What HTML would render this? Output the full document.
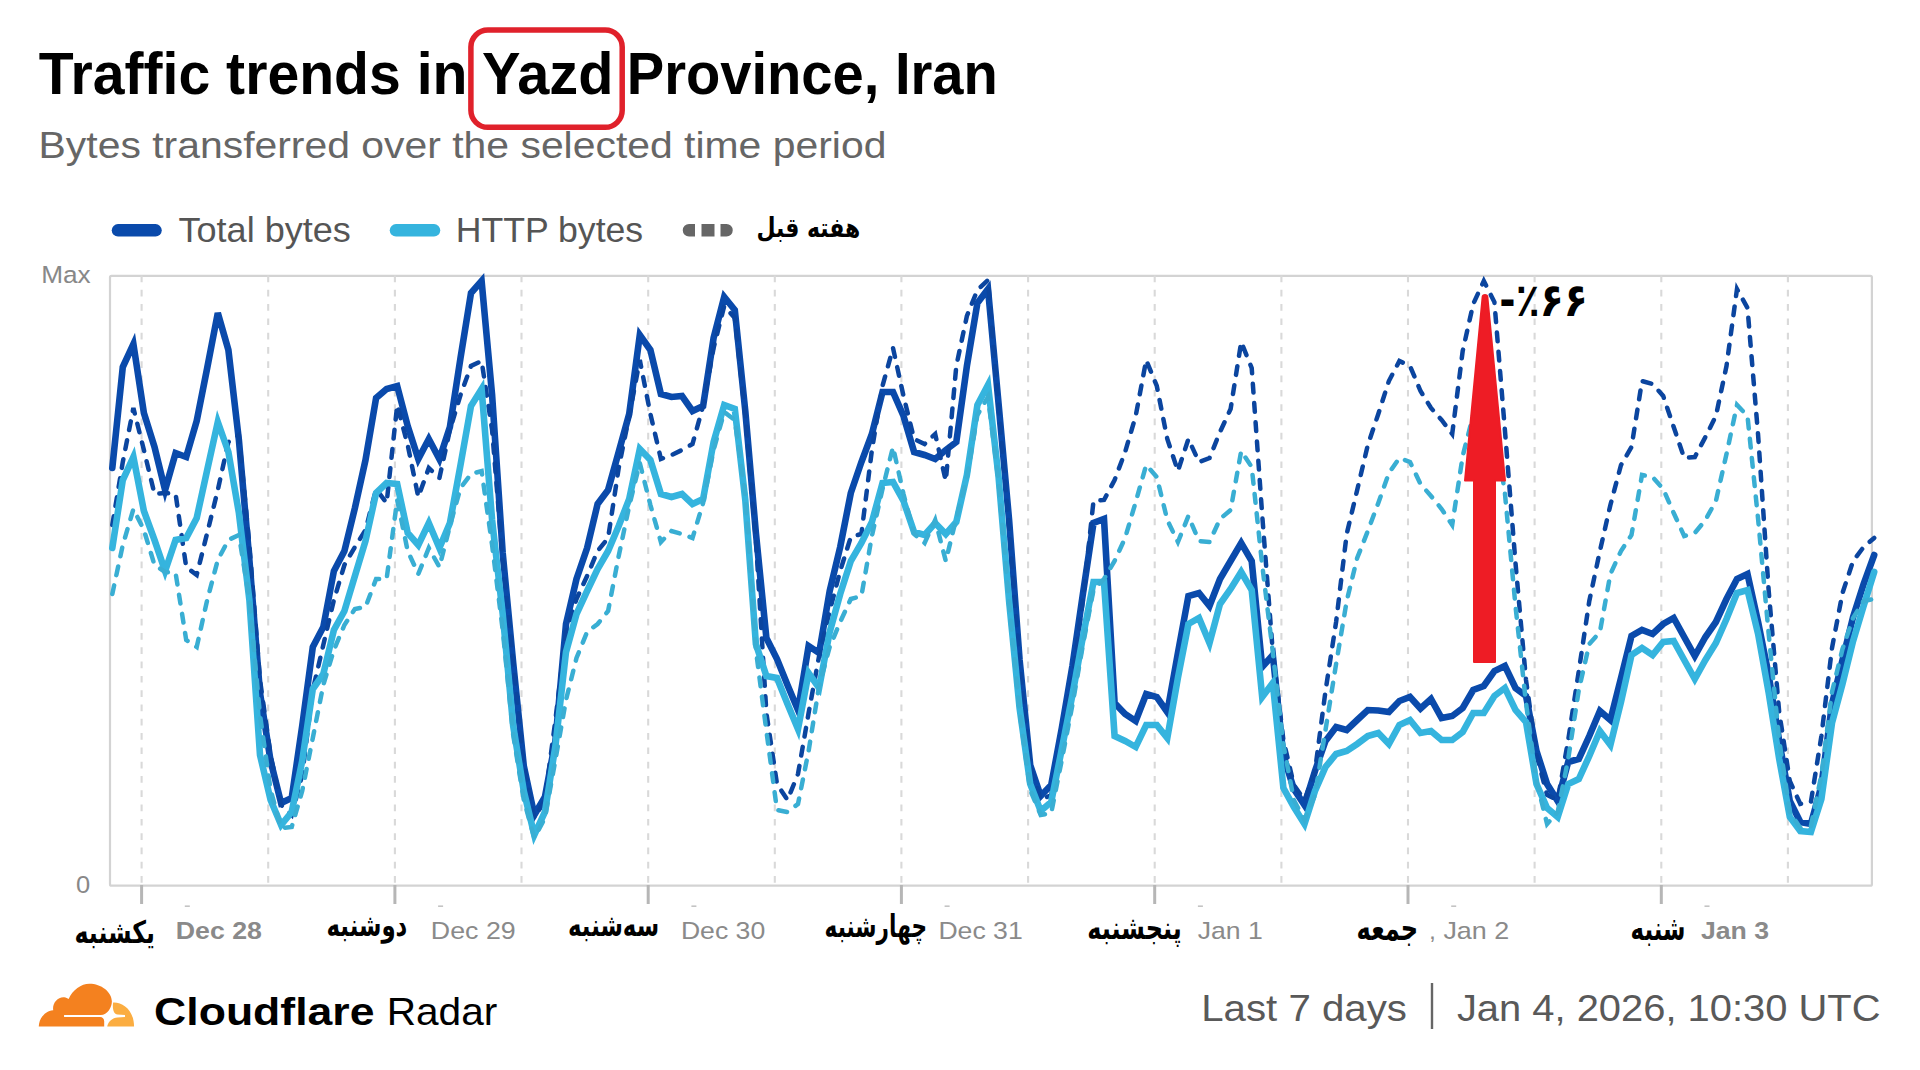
<!DOCTYPE html>
<html lang="en"><head><meta charset="utf-8"><title>Traffic trends in Yazd Province, Iran</title>
<style>html,body{margin:0;padding:0;background:#fff}svg{display:block}.s{font-family:"Liberation Sans",sans-serif}.f{font-family:"DejaVu Sans",sans-serif}</style></head>
<body>
<svg width="1920" height="1070" viewBox="0 0 1920 1070">
<rect width="1920" height="1070" fill="#fff"/>
<rect x="110" y="275.9" width="1761.9" height="609.8" rx="1.5" fill="none" stroke="#d3d3d3" stroke-width="2.2"/>
<line x1="141.6" y1="275.5" x2="141.6" y2="885" stroke="#d9d9d9" stroke-width="2.1" stroke-dasharray="6.7 7.6"/>
<line x1="268.2" y1="275.5" x2="268.2" y2="885" stroke="#d9d9d9" stroke-width="2.1" stroke-dasharray="6.7 7.6"/>
<line x1="394.9" y1="275.5" x2="394.9" y2="885" stroke="#d9d9d9" stroke-width="2.1" stroke-dasharray="6.7 7.6"/>
<line x1="521.5" y1="275.5" x2="521.5" y2="885" stroke="#d9d9d9" stroke-width="2.1" stroke-dasharray="6.7 7.6"/>
<line x1="648.2" y1="275.5" x2="648.2" y2="885" stroke="#d9d9d9" stroke-width="2.1" stroke-dasharray="6.7 7.6"/>
<line x1="774.8" y1="275.5" x2="774.8" y2="885" stroke="#d9d9d9" stroke-width="2.1" stroke-dasharray="6.7 7.6"/>
<line x1="901.4" y1="275.5" x2="901.4" y2="885" stroke="#d9d9d9" stroke-width="2.1" stroke-dasharray="6.7 7.6"/>
<line x1="1028.1" y1="275.5" x2="1028.1" y2="885" stroke="#d9d9d9" stroke-width="2.1" stroke-dasharray="6.7 7.6"/>
<line x1="1154.7" y1="275.5" x2="1154.7" y2="885" stroke="#d9d9d9" stroke-width="2.1" stroke-dasharray="6.7 7.6"/>
<line x1="1281.4" y1="275.5" x2="1281.4" y2="885" stroke="#d9d9d9" stroke-width="2.1" stroke-dasharray="6.7 7.6"/>
<line x1="1408.0" y1="275.5" x2="1408.0" y2="885" stroke="#d9d9d9" stroke-width="2.1" stroke-dasharray="6.7 7.6"/>
<line x1="1534.6" y1="275.5" x2="1534.6" y2="885" stroke="#d9d9d9" stroke-width="2.1" stroke-dasharray="6.7 7.6"/>
<line x1="1661.3" y1="275.5" x2="1661.3" y2="885" stroke="#d9d9d9" stroke-width="2.1" stroke-dasharray="6.7 7.6"/>
<line x1="1787.9" y1="275.5" x2="1787.9" y2="885" stroke="#d9d9d9" stroke-width="2.1" stroke-dasharray="6.7 7.6"/>
<line x1="141.6" y1="885" x2="141.6" y2="904" stroke="#b6b6b6" stroke-width="3"/>
<line x1="394.9" y1="885" x2="394.9" y2="904" stroke="#b6b6b6" stroke-width="3"/>
<line x1="648.2" y1="885" x2="648.2" y2="904" stroke="#b6b6b6" stroke-width="3"/>
<line x1="901.4" y1="885" x2="901.4" y2="904" stroke="#b6b6b6" stroke-width="3"/>
<line x1="1154.7" y1="885" x2="1154.7" y2="904" stroke="#b6b6b6" stroke-width="3"/>
<line x1="1408.0" y1="885" x2="1408.0" y2="904" stroke="#b6b6b6" stroke-width="3"/>
<line x1="1661.3" y1="885" x2="1661.3" y2="904" stroke="#b6b6b6" stroke-width="3"/>
<rect x="184.8" y="905.4" width="5" height="1.6" fill="#c4c4c4"/>
<rect x="438.1" y="905.4" width="5" height="1.6" fill="#c4c4c4"/>
<rect x="691.4" y="905.4" width="5" height="1.6" fill="#c4c4c4"/>
<rect x="944.6" y="905.4" width="5" height="1.6" fill="#c4c4c4"/>
<rect x="1197.9" y="905.4" width="5" height="1.6" fill="#c4c4c4"/>
<rect x="1451.2" y="905.4" width="5" height="1.6" fill="#c4c4c4"/>
<rect x="1704.5" y="905.4" width="5" height="1.6" fill="#c4c4c4"/>
<polyline points="112.3,468.0 122.8,367.0 133.4,344.0 143.9,413.0 154.5,447.0 165.1,490.0 175.6,453.0 186.2,457.0 196.7,421.0 207.2,368.0 217.8,313.0 228.4,350.0 238.9,440.0 249.4,560.0 260.0,693.0 270.6,761.0 281.1,803.0 291.7,798.0 302.2,726.0 312.8,647.0 323.3,627.0 333.9,571.0 344.4,551.0 354.9,508.0 365.5,460.0 376.1,398.0 386.6,389.0 397.2,386.0 407.7,426.0 418.3,459.0 428.8,439.0 439.4,459.0 449.9,427.0 460.5,358.0 471.0,293.0 481.6,281.0 492.1,395.0 502.7,553.0 513.2,663.0 523.8,766.0 534.3,815.0 544.9,797.0 555.4,741.0 566.0,624.0 576.5,579.0 587.1,548.0 597.6,504.0 608.1,490.0 618.7,452.0 629.2,414.0 639.8,335.0 650.4,350.0 660.9,394.0 671.5,397.0 682.0,396.0 692.5,411.0 703.1,406.0 713.6,338.0 724.2,297.0 734.8,310.0 745.3,411.0 755.9,533.0 766.4,638.0 777.0,659.0 787.5,685.0 798.0,710.0 808.6,646.0 819.1,653.0 829.7,591.0 840.2,547.0 850.8,493.0 861.4,462.0 871.9,434.0 882.5,392.0 893.0,392.0 903.5,416.0 914.1,452.0 924.6,455.0 935.2,459.0 945.8,450.0 956.3,442.0 966.9,366.0 977.4,303.0 988.0,289.0 998.5,403.0 1009.1,520.0 1019.6,660.0 1030.2,765.0 1040.7,796.0 1051.2,785.0 1061.8,728.0 1072.4,666.0 1082.9,594.0 1093.5,523.0 1104.0,519.0 1114.6,703.0 1125.1,714.0 1135.7,721.0 1146.2,694.0 1156.8,697.0 1167.3,712.0 1177.9,653.0 1188.4,596.0 1199.0,593.0 1209.5,606.0 1220.0,579.0 1230.6,561.0 1241.2,543.0 1251.7,561.0 1262.2,667.0 1272.8,655.0 1283.4,756.0 1293.9,789.0 1304.5,805.0 1315.0,771.0 1325.5,741.0 1336.1,727.0 1346.7,730.0 1357.2,720.0 1367.8,710.0 1378.3,710.5 1388.9,712.0 1399.4,701.0 1410.0,697.0 1420.5,708.5 1431.0,699.0 1441.6,718.0 1452.2,716.0 1462.7,708.0 1473.2,690.0 1483.8,686.0 1494.4,671.0 1504.9,666.0 1515.5,688.0 1526.0,696.0 1536.5,751.0 1547.1,784.0 1557.7,801.0 1568.2,762.0 1578.8,759.0 1589.3,736.0 1599.9,711.0 1610.4,720.0 1621.0,678.0 1631.5,636.0 1642.0,630.0 1652.6,634.0 1663.2,624.0 1673.7,618.0 1684.2,637.0 1694.8,656.0 1705.4,637.0 1715.9,622.0 1726.5,599.0 1737.0,579.0 1747.5,574.0 1758.1,622.0 1768.7,675.0 1779.2,741.0 1789.8,801.0 1800.3,822.0 1810.9,824.0 1821.4,786.0 1832.0,704.0 1842.5,660.0 1853.1,617.0 1863.6,584.0 1874.2,555.0" fill="none" stroke="#0a4aab" stroke-width="6.6" stroke-linejoin="miter" stroke-linecap="round"/>
<polyline points="112.3,525.0 122.8,462.0 133.4,408.0 143.9,450.0 154.5,494.0 165.1,493.0 175.6,494.0 186.2,567.0 196.7,575.0 207.2,533.0 217.8,490.0 228.4,442.0 238.9,435.0 249.4,545.0 260.0,680.0 270.6,755.0 281.1,805.0 291.7,815.0 302.2,775.0 312.8,690.0 323.3,645.0 333.9,600.0 344.4,565.0 354.9,547.0 365.5,530.0 376.1,489.0 386.6,503.0 397.2,405.0 407.7,445.0 418.3,497.0 428.8,468.0 439.4,478.0 449.9,430.0 460.5,395.0 471.0,366.0 481.6,361.0 492.1,430.0 502.7,560.0 513.2,660.0 523.8,765.0 534.3,818.0 544.9,800.0 555.4,720.0 566.0,632.0 576.5,599.0 587.1,576.0 597.6,551.0 608.1,538.0 618.7,468.0 629.2,416.0 639.8,360.0 650.4,414.0 660.9,459.0 671.5,455.0 682.0,450.0 692.5,444.0 703.1,406.0 713.6,348.0 724.2,306.0 734.8,318.0 745.3,416.0 755.9,540.0 766.4,713.0 777.0,784.0 787.5,800.0 798.0,774.0 808.6,713.0 819.1,656.0 829.7,611.0 840.2,571.0 850.8,537.0 861.4,534.0 871.9,450.0 882.5,386.0 893.0,348.0 903.5,396.0 914.1,439.0 924.6,444.0 935.2,434.0 945.8,481.0 956.3,366.0 966.9,316.0 977.4,290.0 988.0,280.0 998.5,406.0 1009.1,528.0 1019.6,665.0 1030.2,765.0 1040.7,800.0 1051.2,795.0 1061.8,740.0 1072.4,680.0 1082.9,600.0 1093.5,501.0 1104.0,500.0 1114.6,480.0 1125.1,452.0 1135.7,416.0 1146.2,360.0 1156.8,386.0 1167.3,439.0 1177.9,471.0 1188.4,439.0 1199.0,462.0 1209.5,458.0 1220.0,432.0 1230.6,409.0 1241.2,342.0 1251.7,368.0 1262.2,515.0 1272.8,652.0 1283.4,740.0 1293.9,785.0 1304.5,800.0 1315.0,771.0 1325.5,691.0 1336.1,622.0 1346.7,534.0 1357.2,490.0 1367.8,445.0 1378.3,414.0 1388.9,381.0 1399.4,361.0 1410.0,366.0 1420.5,391.0 1431.0,408.0 1441.6,420.0 1452.2,434.0 1462.7,351.0 1473.2,304.0 1483.8,281.0 1494.4,302.0 1504.9,430.0 1515.5,563.0 1526.0,680.0 1536.5,755.0 1547.1,795.0 1557.7,800.0 1568.2,740.0 1578.8,671.0 1589.3,601.0 1599.9,551.0 1610.4,505.0 1621.0,465.0 1631.5,447.0 1642.0,381.0 1652.6,384.0 1663.2,396.0 1673.7,427.0 1684.2,458.0 1694.8,457.0 1705.4,437.0 1715.9,416.0 1726.5,366.0 1737.0,289.0 1747.5,308.0 1758.1,435.0 1768.7,591.0 1779.2,712.0 1789.8,781.0 1800.3,804.0 1810.9,802.0 1821.4,736.0 1832.0,648.0 1842.5,593.0 1853.1,561.0 1863.6,547.0 1874.2,538.0" fill="none" stroke="#0b459f" stroke-width="4.5" stroke-linejoin="miter" stroke-linecap="round" stroke-dasharray="8.8 10.5"/>
<polyline points="112.3,548.0 122.8,480.0 133.4,457.0 143.9,511.0 154.5,540.0 165.1,571.0 175.6,540.0 186.2,538.0 196.7,518.0 207.2,470.0 217.8,422.0 228.4,452.0 238.9,513.0 249.4,600.0 260.0,755.0 270.6,800.0 281.1,825.0 291.7,812.0 302.2,761.0 312.8,689.0 323.3,674.0 333.9,630.0 344.4,611.0 354.9,576.0 365.5,541.0 376.1,493.0 386.6,483.0 397.2,484.0 407.7,533.0 418.3,545.0 428.8,523.0 439.4,548.0 449.9,523.0 460.5,465.0 471.0,406.0 481.6,389.0 492.1,520.0 502.7,614.0 513.2,726.0 523.8,791.0 534.3,835.0 544.9,812.0 555.4,746.0 566.0,652.0 576.5,614.0 587.1,591.0 597.6,569.0 608.1,551.0 618.7,526.0 629.2,499.0 639.8,449.0 650.4,460.0 660.9,494.0 671.5,497.0 682.0,494.0 692.5,504.0 703.1,499.0 713.6,442.0 724.2,405.0 734.8,409.0 745.3,500.0 755.9,644.0 766.4,676.0 777.0,678.0 787.5,704.0 798.0,729.0 808.6,673.0 819.1,688.0 829.7,632.0 840.2,594.0 850.8,561.0 861.4,543.0 871.9,522.0 882.5,483.0 893.0,482.0 903.5,501.0 914.1,532.0 924.6,535.0 935.2,523.0 945.8,534.0 956.3,522.0 966.9,475.0 977.4,405.0 988.0,385.0 998.5,476.0 1009.1,601.0 1019.6,708.0 1030.2,784.0 1040.7,811.0 1051.2,802.0 1061.8,749.0 1072.4,695.0 1082.9,637.0 1093.5,582.0 1104.0,582.0 1114.6,736.0 1125.1,741.0 1135.7,747.0 1146.2,725.0 1156.8,725.0 1167.3,738.0 1177.9,678.0 1188.4,624.0 1199.0,618.0 1209.5,643.0 1220.0,604.0 1230.6,589.0 1241.2,572.0 1251.7,590.0 1262.2,697.0 1272.8,683.0 1283.4,788.0 1293.9,807.0 1304.5,824.0 1315.0,791.0 1325.5,767.0 1336.1,754.0 1346.7,751.0 1357.2,744.0 1367.8,736.0 1378.3,733.0 1388.9,744.0 1399.4,725.0 1410.0,720.0 1420.5,733.0 1431.0,731.0 1441.6,740.0 1452.2,740.0 1462.7,732.0 1473.2,713.0 1483.8,713.0 1494.4,696.0 1504.9,688.0 1515.5,710.0 1526.0,722.0 1536.5,784.0 1547.1,808.0 1557.7,817.0 1568.2,784.0 1578.8,779.0 1589.3,756.0 1599.9,731.0 1610.4,745.0 1621.0,702.0 1631.5,655.0 1642.0,648.0 1652.6,655.0 1663.2,642.0 1673.7,641.0 1684.2,660.0 1694.8,679.0 1705.4,660.0 1715.9,643.0 1726.5,619.0 1737.0,593.0 1747.5,590.0 1758.1,634.0 1768.7,693.0 1779.2,759.0 1789.8,817.0 1800.3,831.0 1810.9,832.0 1821.4,799.0 1832.0,723.0 1842.5,684.0 1853.1,641.0 1863.6,606.0 1874.2,572.0" fill="none" stroke="#35b4de" stroke-width="6.6" stroke-linejoin="miter" stroke-linecap="round"/>
<polyline points="112.3,594.0 122.8,545.0 133.4,509.0 143.9,530.0 154.5,565.0 165.1,572.0 175.6,573.0 186.2,640.0 196.7,647.0 207.2,600.0 217.8,560.0 228.4,540.0 238.9,535.0 249.4,600.0 260.0,715.0 270.6,790.0 281.1,828.0 291.7,827.0 302.2,791.0 312.8,738.0 323.3,685.0 333.9,650.0 344.4,625.0 354.9,609.0 365.5,607.0 376.1,579.0 386.6,579.0 397.2,500.0 407.7,551.0 418.3,574.0 428.8,548.0 439.4,567.0 449.9,526.0 460.5,488.0 471.0,474.0 481.6,471.0 492.1,545.0 502.7,630.0 513.2,735.0 523.8,800.0 534.3,838.0 544.9,818.0 555.4,760.0 566.0,700.0 576.5,658.0 587.1,632.0 597.6,624.0 608.1,611.0 618.7,556.0 629.2,506.0 639.8,463.0 650.4,505.0 660.9,542.0 671.5,531.0 682.0,534.0 692.5,538.0 703.1,503.0 713.6,450.0 724.2,412.0 734.8,420.0 745.3,495.0 755.9,650.0 766.4,731.0 777.0,810.0 787.5,812.0 798.0,804.0 808.6,751.0 819.1,686.0 829.7,647.0 840.2,622.0 850.8,599.0 861.4,596.0 871.9,536.0 882.5,489.0 893.0,447.0 903.5,494.0 914.1,534.0 924.6,543.0 935.2,520.0 945.8,561.0 956.3,518.0 966.9,478.0 977.4,415.0 988.0,397.0 998.5,481.0 1009.1,605.0 1019.6,712.0 1030.2,790.0 1040.7,815.0 1051.2,813.0 1061.8,760.0 1072.4,705.0 1082.9,645.0 1093.5,590.0 1104.0,579.0 1114.6,561.0 1125.1,538.0 1135.7,502.0 1146.2,465.0 1156.8,477.0 1167.3,520.0 1177.9,542.0 1188.4,516.0 1199.0,541.0 1209.5,542.0 1220.0,519.0 1230.6,510.0 1241.2,451.0 1251.7,467.0 1262.2,565.0 1272.8,652.0 1283.4,745.0 1293.9,800.0 1304.5,820.0 1315.0,795.0 1325.5,730.0 1336.1,664.0 1346.7,601.0 1357.2,558.0 1367.8,531.0 1378.3,503.0 1388.9,473.0 1399.4,458.0 1410.0,462.0 1420.5,484.0 1431.0,496.0 1441.6,509.0 1452.2,525.0 1462.7,456.0 1473.2,415.0 1483.8,400.0 1494.4,425.0 1504.9,493.0 1515.5,606.0 1526.0,703.0 1536.5,781.0 1547.1,824.0 1557.7,812.0 1568.2,759.0 1578.8,690.0 1589.3,644.0 1599.9,632.0 1610.4,574.0 1621.0,551.0 1631.5,535.0 1642.0,475.0 1652.6,477.0 1663.2,489.0 1673.7,513.0 1684.2,536.0 1694.8,533.0 1705.4,520.0 1715.9,501.0 1726.5,454.0 1737.0,405.0 1747.5,416.0 1758.1,519.0 1768.7,634.0 1779.2,740.0 1789.8,812.0 1800.3,828.0 1810.9,826.0 1821.4,775.0 1832.0,692.0 1842.5,649.0 1853.1,618.0 1863.6,601.0 1874.2,599.0" fill="none" stroke="#39aed3" stroke-width="4.5" stroke-linejoin="miter" stroke-linecap="round" stroke-dasharray="8.8 10.5"/>
<path d="M1465,480.5 L1482.6,297 Q1482.9,295 1485,295 Q1487.1,295 1487.4,297 L1505,480.5 L1495,480.5 L1495,662 L1474,662 L1474,480.5 Z" fill="#ee1c25" stroke="#ee1c25" stroke-width="2" stroke-linejoin="round"/>
<rect x="470.9" y="30" width="151.3" height="97.3" rx="17" ry="17" fill="none" stroke="#e0212b" stroke-width="5.5"/>
<line x1="118" y1="230.3" x2="155.5" y2="230.3" stroke="#0a4aab" stroke-width="12.5" stroke-linecap="round"/>
<line x1="396" y1="230.3" x2="434" y2="230.3" stroke="#35b4de" stroke-width="12.5" stroke-linecap="round"/>
<path d="M689,224 h6 v12.5 h-6 a6.25,6.25 0 0 1 0,-12.5 Z M701.5,224 h13 v12.5 h-13 Z M720.5,224 h6 a6.25,6.25 0 0 1 0,12.5 h-6 Z" fill="#666"/>
<line x1="1432" y1="983" x2="1432" y2="1029" stroke="#666" stroke-width="2.4"/>
<text x="38.7" y="93.7" font-size="59" fill="#000" font-weight="bold" class="s" text-anchor="start" textLength="428.8" lengthAdjust="spacingAndGlyphs" >Traffic trends in</text>
<text x="482.0" y="93.7" font-size="59" fill="#000" font-weight="bold" class="s" text-anchor="start" textLength="131.4" lengthAdjust="spacingAndGlyphs" >Yazd</text>
<text x="626.8" y="93.7" font-size="59" fill="#000" font-weight="bold" class="s" text-anchor="start" textLength="371.0" lengthAdjust="spacingAndGlyphs" >Province, Iran</text>
<text x="38.6" y="158" font-size="37" fill="#666" font-weight="normal" class="s" text-anchor="start" textLength="847.8" lengthAdjust="spacingAndGlyphs" >Bytes transferred over the selected time period</text>
<text x="178.5" y="242.3" font-size="35" fill="#555" font-weight="normal" class="s" text-anchor="start" textLength="172.4" lengthAdjust="spacingAndGlyphs" >Total bytes</text>
<text x="455.7" y="242.3" font-size="35" fill="#555" font-weight="normal" class="s" text-anchor="start" textLength="187.5" lengthAdjust="spacingAndGlyphs" >HTTP bytes</text>
<text x="41.2" y="283.2" font-size="24.5" fill="#888" font-weight="normal" class="s" text-anchor="start" textLength="49.5" lengthAdjust="spacingAndGlyphs" >Max</text>
<text x="76.0" y="893.3" font-size="24.5" fill="#888" font-weight="normal" class="s" text-anchor="start" textLength="14.2" lengthAdjust="spacingAndGlyphs" >0</text>
<text x="175.8" y="939" font-size="24.8" fill="#8a8a8a" font-weight="bold" class="s" text-anchor="start" textLength="86.2" lengthAdjust="spacingAndGlyphs" >Dec 28</text>
<text x="430.8" y="939" font-size="24.8" fill="#8a8a8a" font-weight="normal" class="s" text-anchor="start" textLength="84.9" lengthAdjust="spacingAndGlyphs" >Dec 29</text>
<text x="680.9" y="939" font-size="24.8" fill="#8a8a8a" font-weight="normal" class="s" text-anchor="start" textLength="84.3" lengthAdjust="spacingAndGlyphs" >Dec 30</text>
<text x="938.4" y="939" font-size="24.8" fill="#8a8a8a" font-weight="normal" class="s" text-anchor="start" textLength="84.3" lengthAdjust="spacingAndGlyphs" >Dec 31</text>
<text x="1197.7" y="939" font-size="24.8" fill="#8a8a8a" font-weight="normal" class="s" text-anchor="start" textLength="65.1" lengthAdjust="spacingAndGlyphs" >Jan 1</text>
<text x="1443.4" y="939" font-size="24.8" fill="#8a8a8a" font-weight="normal" class="s" text-anchor="start" textLength="65.9" lengthAdjust="spacingAndGlyphs" >Jan 2</text>
<text x="1700.9" y="939" font-size="24.8" fill="#8a8a8a" font-weight="bold" class="s" text-anchor="start" textLength="68.1" lengthAdjust="spacingAndGlyphs" >Jan 3</text>
<text x="154.1" y="1025" font-size="39.5" fill="#000" font-weight="bold" class="s" text-anchor="start" textLength="220.4" lengthAdjust="spacingAndGlyphs" >Cloudflare</text>
<text x="386.7" y="1025" font-size="39.5" fill="#000" font-weight="normal" class="s" text-anchor="start" textLength="110.6" lengthAdjust="spacingAndGlyphs" >Radar</text>
<text x="1201.2" y="1021" font-size="37.7" fill="#595959" font-weight="normal" class="s" text-anchor="start" textLength="205.7" lengthAdjust="spacingAndGlyphs" >Last 7 days</text>
<text x="1456.9" y="1021" font-size="37.7" fill="#595959" font-weight="normal" class="s" text-anchor="start" textLength="423.6" lengthAdjust="spacingAndGlyphs" >Jan 4, 2026, 10:30 UTC</text>
<text x="1429" y="939" font-size="24.8" fill="#8a8a8a" font-weight="normal" class="s" text-anchor="start" >,</text>
<text x="756.4" y="236.5" font-size="27" fill="#000" font-weight="bold" class="f" text-anchor="start" textLength="103.8" lengthAdjust="spacingAndGlyphs" >هفته قبل</text>
<text x="74.5" y="943" font-size="31" fill="#000" font-weight="bold" class="f" text-anchor="start" textLength="80.3" lengthAdjust="spacingAndGlyphs" >یکشنبه</text>
<text x="326.5" y="936" font-size="31" fill="#000" font-weight="bold" class="f" text-anchor="start" textLength="80.8" lengthAdjust="spacingAndGlyphs" >دوشنبه</text>
<text x="568.0" y="935.5" font-size="31" fill="#000" font-weight="bold" class="f" text-anchor="start" textLength="91.1" lengthAdjust="spacingAndGlyphs" >سه‌شنبه</text>
<text x="824.6" y="937" font-size="31" fill="#000" font-weight="bold" class="f" text-anchor="start" textLength="102.4" lengthAdjust="spacingAndGlyphs" >چهارشنبه</text>
<text x="1087.3" y="938.5" font-size="32" fill="#000" font-weight="bold" class="f" text-anchor="start" textLength="94.4" lengthAdjust="spacingAndGlyphs" >پنجشنبه</text>
<text x="1356.6" y="939.5" font-size="34" fill="#000" font-weight="bold" class="f" text-anchor="start" textLength="61.6" lengthAdjust="spacingAndGlyphs" >جمعه</text>
<text x="1630.6" y="940" font-size="33" fill="#000" font-weight="bold" class="f" text-anchor="start" textLength="54.8" lengthAdjust="spacingAndGlyphs" >شنبه</text>
<text x="1499.3" y="316.3" font-size="46" fill="#000" font-weight="bold" class="f" text-anchor="start" textLength="88.4" lengthAdjust="spacingAndGlyphs" >-٪۶۶</text>
<g transform="translate(30,975) scale(0.0625)">
<path d="M140,825 C145,690 240,575 372,562 C352,455 440,345 548,355 C575,357 600,370 618,385 C680,235 820,138 950,138 C1140,138 1310,270 1310,420 C1310,520 1240,640 1130,640 L545,640 L545,672 L1120,672 C1160,672 1187,700 1187,740 L1187,825 Z" fill="#f4811f"/>
<path d="M1235,825 C1250,740 1320,685 1400,678 L1520,672 L1520,640 L1400,632 C1340,625 1315,540 1330,440 C1480,430 1665,560 1665,825 Z" fill="#fbad41"/>
</g>
</svg>
</body></html>
